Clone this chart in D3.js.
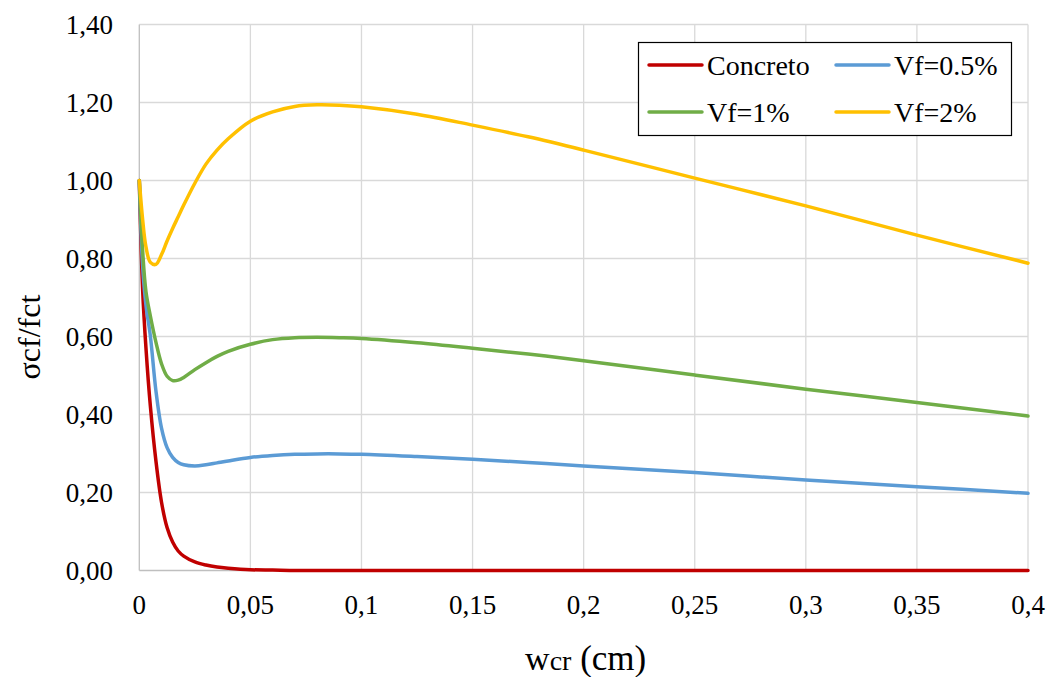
<!DOCTYPE html>
<html>
<head>
<meta charset="utf-8">
<script src="https://cdn.jsdelivr.net/npm/d3@7"></script>
<style>
  body { margin: 0; background: #fff; }
</style>
</head>
<body>
<div id="chart"></div>
<script>
// crack opening (cm)
var wcr = [0, 0.0015, 0.003, 0.005, 0.0075, 0.01, 0.0125, 0.015, 0.0175, 0.02, 0.025, 0.03, 0.035, 0.04,
           0.05, 0.06, 0.07, 0.08, 0.09, 0.1, 0.125, 0.15, 0.175, 0.2, 0.25, 0.3, 0.35, 0.4];

var concreto = [1.0, 0.72, 0.57, 0.42, 0.28, 0.175, 0.11, 0.073, 0.05, 0.037, 0.022, 0.014, 0.009, 0.006,
                0.002, 0.001, 0, 0, 0, 0, 0, 0, 0, 0, 0, 0, 0, 0];
var vf05 = [1.0, 0.78, 0.68, 0.60, 0.46, 0.365, 0.315, 0.29, 0.277, 0.271, 0.268, 0.271, 0.276, 0.281,
            0.290, 0.295, 0.298, 0.299, 0.299, 0.298, 0.292, 0.285, 0.277, 0.268, 0.251, 0.232, 0.215, 0.198];
var vf1 = [1.0, 0.82, 0.715, 0.652, 0.585, 0.53, 0.498, 0.487, 0.488, 0.495, 0.515, 0.533, 0.549, 0.562,
           0.580, 0.592, 0.597, 0.598, 0.597, 0.595, 0.584, 0.570, 0.555, 0.538, 0.501, 0.465, 0.431, 0.396];
var vf2 = [1.0, 0.90, 0.83, 0.79, 0.785, 0.81, 0.845, 0.877, 0.907, 0.937, 0.993, 1.042, 1.078, 1.107,
           1.152, 1.176, 1.19, 1.194, 1.193, 1.189, 1.17, 1.142, 1.112, 1.078, 1.006, 0.935, 0.86, 0.788];

var seriesNames = ["Concreto", "Vf=0.5%", "Vf=1%", "Vf=2%"];
var seriesColors = ["#C00000", "#5B9BD5", "#70AD47", "#FFC000"];
var xTicks = [0, 0.05, 0.1, 0.15, 0.2, 0.25, 0.3, 0.35, 0.4];
var yTicks = [0, 0.2, 0.4, 0.6, 0.8, 1.0, 1.2, 1.4];

var width = 1049, height = 677;
var margin = {top: 24.5, right: 21, bottom: 106.5, left: 139.3};
var FONT = "'Liberation Serif'";

var svg = d3.select("#chart")
  .append("svg")
    .attr("width", width)
    .attr("height", height)
    .style("font-family", FONT);

var x = d3.scaleLinear().domain([0, 0.4]).range([margin.left, width - margin.right]);
var y = d3.scaleLinear().domain([0, 1.4]).range([height - margin.bottom, margin.top]);

var comma = function(d, digits) { return d.toFixed(digits).replace(".", ","); };

// grid
svg.append("g")
  .selectAll("line")
  .data(yTicks.slice(1))
  .enter().append("line")
    .attr("x1", x(0)).attr("x2", x(0.4))
    .attr("y1", function(d) { return y(d); })
    .attr("y2", function(d) { return y(d); })
    .attr("stroke", "#D9D9D9").attr("stroke-width", 1.3);

svg.append("g")
  .selectAll("line")
  .data(xTicks.slice(1))
  .enter().append("line")
    .attr("x1", function(d) { return x(d); })
    .attr("x2", function(d) { return x(d); })
    .attr("y1", y(0)).attr("y2", y(1.4))
    .attr("stroke", "#D9D9D9").attr("stroke-width", 1.3);

// axes lines (no ticks)
svg.append("line")
  .attr("x1", x(0)).attr("x2", x(0.4)).attr("y1", y(0)).attr("y2", y(0))
  .attr("stroke", "#BFBFBF").attr("stroke-width", 1.3);
svg.append("line")
  .attr("x1", x(0)).attr("x2", x(0)).attr("y1", y(0)).attr("y2", y(1.4))
  .attr("stroke", "#BFBFBF").attr("stroke-width", 1.3);

// tick labels
svg.append("g")
  .selectAll("text")
  .data(yTicks)
  .enter().append("text")
    .attr("x", 113)
    .attr("y", function(d) { return y(d) + 9; })
    .attr("text-anchor", "end")
    .style("font-family", FONT)
    .style("font-size", "27px")
    .text(function(d) { return comma(d, 2); });

svg.append("g")
  .selectAll("text")
  .data(xTicks)
  .enter().append("text")
    .attr("x", function(d) { return x(d); })
    .attr("y", 614)
    .attr("text-anchor", "middle")
    .style("font-family", FONT)
    .style("font-size", "27px")
    .text(function(d) { return d === 0 ? "0" : String(d).replace(".", ","); });

// axis titles
var xt = svg.append("text")
  .attr("x", (x(0) + x(0.4)) / 2 + 2)
  .attr("y", 670)
  .attr("text-anchor", "middle")
  .style("font-family", FONT)
  .style("font-size", "35px");
xt.append("tspan").style("font-size", "34px").text("w");
xt.append("tspan").style("font-size", "28px").text("cr");
xt.append("tspan").text(" (cm)");

svg.append("text")
  .attr("transform", "translate(40,337) rotate(-90)")
  .attr("text-anchor", "middle")
  .style("font-family", FONT)
  .style("font-size", "32px")
  .text("σcf/fct");

// lines
var allSeries = [concreto, vf05, vf1, vf2];
var valueline = d3.line()
  .x(function(d, i) { return x(wcr[i]); })
  .y(function(d) { return y(d); })
  .curve(d3.curveCatmullRom.alpha(0.5));

svg.append("g")
  .selectAll("path")
  .data(allSeries)
  .enter().append("path")
    .attr("d", function(d) { return valueline(d); })
    .attr("fill", "none")
    .attr("stroke", function(d, i) { return seriesColors[i]; })
    .attr("stroke-width", 3.5)
    .attr("stroke-linejoin", "round")
    .attr("stroke-linecap", "round");

// legend
var legend = svg.append("g");
legend.append("rect")
  .attr("x", 638.5).attr("y", 42.5)
  .attr("width", 373).attr("height", 93)
  .attr("fill", "#fff")
  .attr("stroke", "#000").attr("stroke-width", 1.2);

var legPos = [[649, 65], [836, 65], [649, 112], [836, 112]];
seriesNames.forEach(function(name, i) {
  var p = legPos[i];
  legend.append("line")
    .attr("x1", p[0]).attr("x2", p[0] + 53)
    .attr("y1", p[1]).attr("y2", p[1])
    .attr("stroke", seriesColors[i]).attr("stroke-width", 3.5)
    .attr("stroke-linecap", "round");
  legend.append("text")
    .attr("x", p[0] + 58)
    .attr("y", p[1] + 10)
    .style("font-family", FONT)
    .style("font-size", "28px")
    .text(name);
});
</script>
</body>
</html>
